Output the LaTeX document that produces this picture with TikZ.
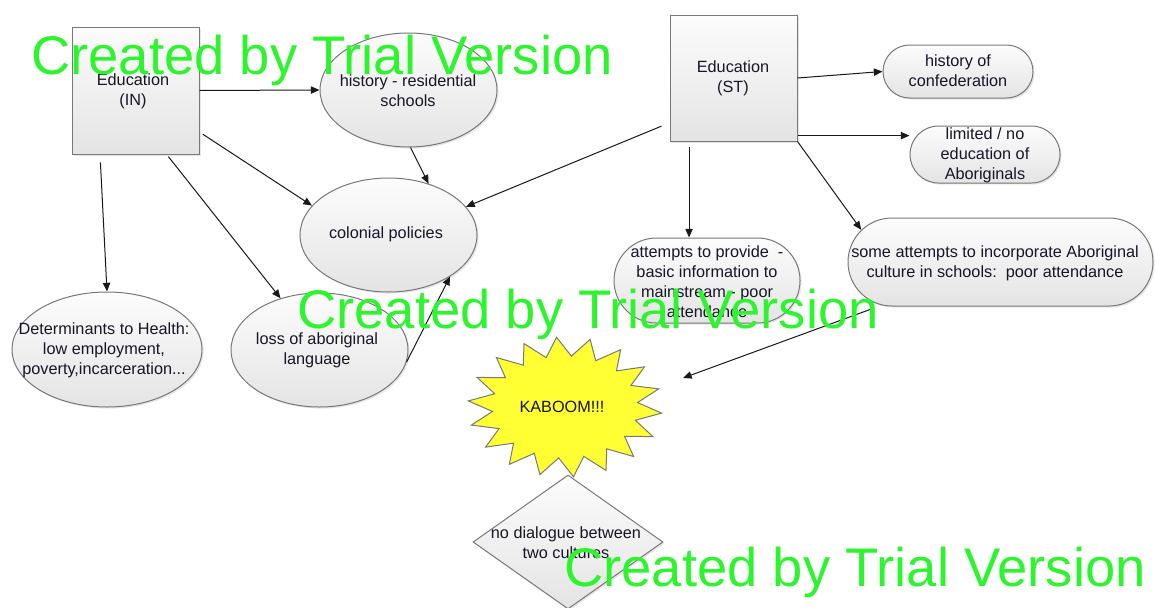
\documentclass[tikz,border=0pt]{standalone}
\usepackage{fontspec}
\setmainfont{Liberation Sans}
\usetikzlibrary{shapes.geometric,shapes.misc,arrows.meta,shadows,calc}
\definecolor{bordercol}{RGB}{120,120,120}
\definecolor{topc}{RGB}{252,252,252}
\definecolor{botc}{RGB}{228,228,228}
\definecolor{textcol}{RGB}{22,22,40}
\definecolor{linecol}{RGB}{25,25,25}
\definecolor{wmgreen}{RGB}{45,245,45}
\definecolor{staryellow}{RGB}{255,255,51}
\begin{document}
\begin{tikzpicture}[x=0.75pt,y=-0.75pt,
  base/.style={draw=bordercol, line width=0.75pt, top color=topc, bottom color=botc, inner sep=0pt,
    drop shadow={shadow xshift=1.2pt, shadow yshift=-1.2pt, opacity=0.2}},
  box/.style={base, rectangle},
  ell/.style={base, ellipse},
  pill/.style={base, rounded rectangle},
  dia/.style={base, diamond},
  txt/.style={align=center, font=\fontsize{12.2}{15}\selectfont, text=textcol, inner sep=0pt},
  arr/.style={-{Triangle[length=6.5pt,width=5.5pt]}, line width=0.75pt, draw=linecol},
  wm/.style={font=\fontsize{40.8}{41}\selectfont, text=wmgreen, anchor=base west, inner sep=0pt}
]
\useasboundingbox (0,0) rectangle (1155,607);

% shapes
\node[box, minimum width=95.25pt, minimum height=95.25pt] (ein) at (135.5,90.5) {};
\node[ell, minimum width=132.75pt, minimum height=85.5pt] (hist) at (408.5,90) {};
\node[box, minimum width=95.25pt, minimum height=94.5pt] (est) at (733.5,78) {};
\node[pill, minimum width=112.5pt, minimum height=39.75pt] (conf) at (958,71.5) {};
\node[pill, minimum width=112.5pt, minimum height=42.75pt] (lim) at (985,154.5) {};
\node[ell, minimum width=132.75pt, minimum height=85.5pt] (col) at (388.5,235) {};
\node[ell, minimum width=142.5pt, minimum height=86.25pt] (det) at (107,349.5) {};
\node[ell, minimum width=132.75pt, minimum height=85.5pt] (loss) at (319.5,350) {};
\node[pill, minimum width=139.5pt, minimum height=63.75pt] (att) at (707,280.5) {};
\node[pill, minimum width=228.75pt, minimum height=66pt] (some) at (1000.5,262) {};
\node[dia, minimum width=142.5pt, minimum height=100.5pt] (dia) at (568,542) {};

% star
\filldraw[draw=bordercol, line width=0.75pt, fill=staryellow]
  ({565+97*cos(5)},{407+70*sin(5)})
  \foreach \i in {1,...,35} {
    -- ({565+(1-0.25*mod(\i,2))*97*cos(5+\i*10)},{407+(1-0.27*mod(\i,2))*70*sin(5+\i*10)})
  } -- cycle;

% texts
\node[txt] (ein-t) at (133,91) {Education\\(IN)};
\node[txt] (hist-t) at (408,91) {history - residential\\schools};
\node[txt] (est-t) at (733,78) {Education\\(ST)};
\node[txt] (conf-t) at (958,71) {history of\\confederation};
\node[txt] (lim-t) at (985,155) {limited / no\\education of\\Aboriginals};
\node[txt] (col-t) at (386,234) {colonial policies};
\node[txt] (det-t) at (104,350) {Determinants to Health:\\low employment,\\poverty,incarceration...};
\node[txt] (loss-t) at (317,350) {loss of aboriginal\\language};
\node[txt] (att-t) at (707,282) {attempts to provide\ \ -\\basic information to\\mainstream - poor\\attendance};
\node[txt] (some-t) at (995,263) {some attempts to incorporate Aboriginal\\culture in schools:\ \ poor attendance};
\node[txt] (kaboom) at (562,407) {KABOOM!!!};
\node[txt] (dia-t) at (566,543) {no dialogue between\\two cultures};

% connectors
\draw[arr] (ein.east) -- (hist.west);
\draw[arr, shorten <=3pt] (ein.-33) -- (col.159);
\draw[arr, shorten <=2pt] (ein.-64) -- (loss.127);
\draw[arr, shorten <=6pt] (ein.-119) -- (det.north);
\draw[arr] (hist.-88) -- (col.52);
\draw[arr, shorten <=6.5pt] (est.215) -- (col.20);
\draw[arr] (loss.-8) -- (col.-34);
\draw[arr] (est.east) -- (conf.west);
\draw[arr] (est.-42) -- (est.-42 -| lim.west);
\draw[arr, shorten <=4pt] (est.-125) -- (est.-125 |- att.north);
\draw[arr] (est.south east) -- (some.167);
\coordinate (kend) at (683,378);
\draw[arr, shorten <=9pt] (some.200) -- (kend);

% watermark
\node[wm] (wm1) at (31,74) {Created by Trial Version};
\node[wm] (wm2) at (297,328) {Created by Trial Version};
\node[wm] (wm3) at (564,586) {Created by Trial Version};
\end{tikzpicture}
\end{document}
